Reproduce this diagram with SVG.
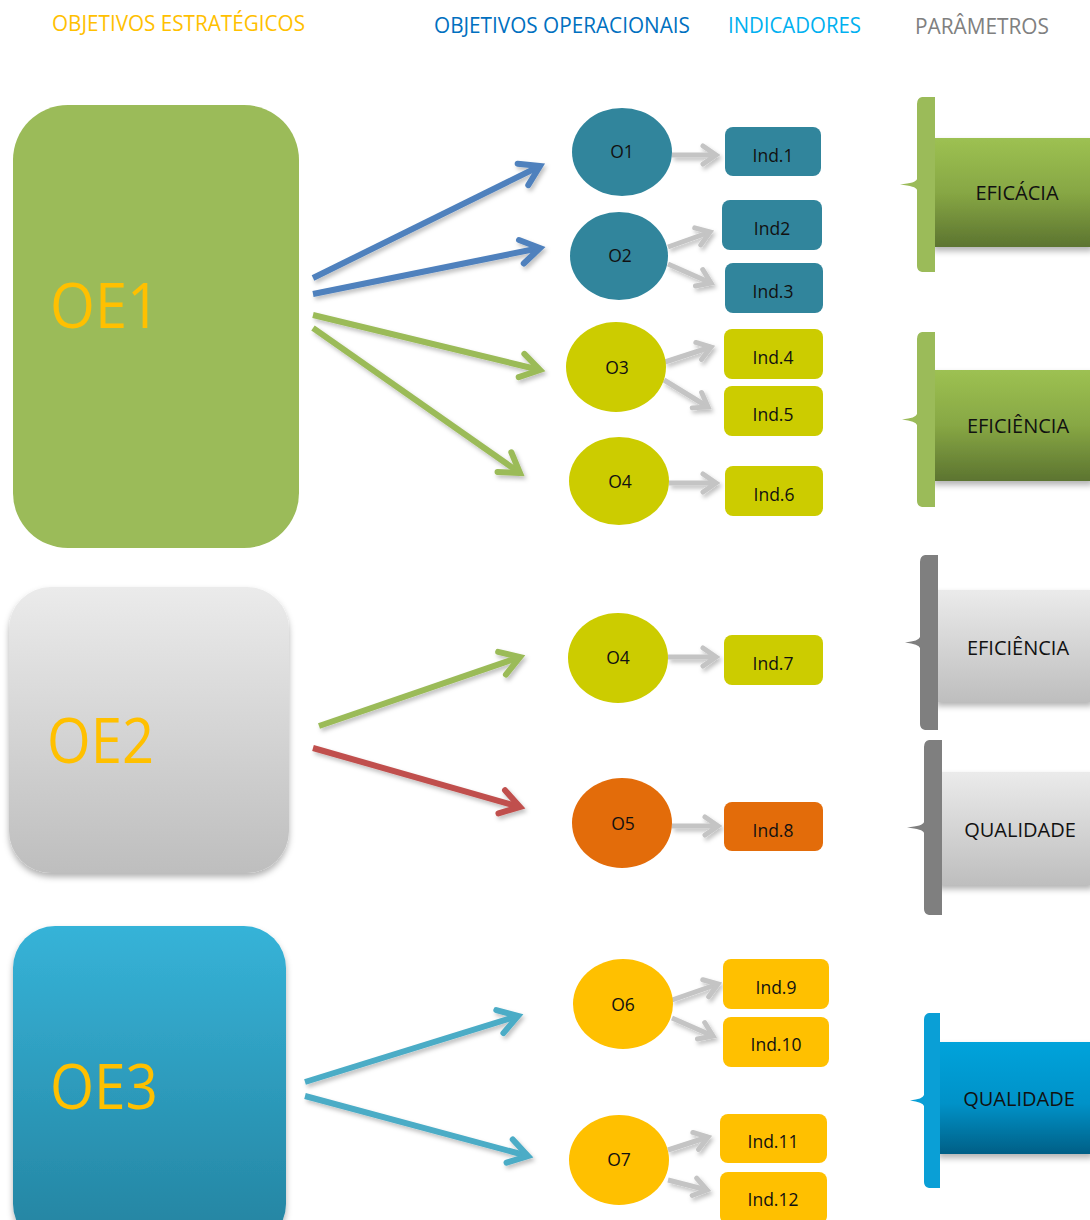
<svg xmlns="http://www.w3.org/2000/svg" width="1090" height="1220" viewBox="0 0 1090 1220">
<style>
text{font-family:"Open Sans","Noto Sans","Liberation Sans",sans-serif;}
.hd{font-size:21px;}
.oe{font-size:62px;fill:#FFC000;}
.lbl{font-size:17.5px;fill:#111111;text-anchor:middle;}
.par{font-size:20px;fill:#111111;text-anchor:middle;}
.big{fill:none;stroke-width:6;}
.sm{fill:none;stroke:#C4C4C4;stroke-width:5;}
.teal{fill:#31859C;}
.lime{fill:#CCCC00;}
.orange{fill:#E36C0A;}
.gold{fill:#FFC000;}
</style>
<defs>
<filter id="sh" filterUnits="userSpaceOnUse" x="0" y="0" width="1090" height="1220">
<feDropShadow dx="2" dy="3" stdDeviation="2" flood-color="#000" flood-opacity="0.25"/>
</filter>
<filter id="sh2" x="-10%" y="-10%" width="130%" height="130%">
<feDropShadow dx="0" dy="4" stdDeviation="3" flood-color="#000" flood-opacity="0.3"/>
</filter>
<linearGradient id="gGray" x1="0" y1="0" x2="0" y2="1">
<stop offset="0" stop-color="#EBEBEB"/><stop offset="1" stop-color="#BEBEBE"/>
</linearGradient>
<linearGradient id="gOE3" x1="0" y1="0" x2="0" y2="1">
<stop offset="0" stop-color="#36B3D8"/><stop offset="1" stop-color="#2483A0"/>
</linearGradient>
<linearGradient id="gGreen" x1="0" y1="0" x2="0" y2="1">
<stop offset="0" stop-color="#9DC152"/><stop offset="0.5" stop-color="#87A744"/><stop offset="1" stop-color="#5C7430"/>
</linearGradient>
<linearGradient id="gBlue" x1="0" y1="0" x2="0" y2="1">
<stop offset="0" stop-color="#00A3DB"/><stop offset="0.55" stop-color="#0092C8"/><stop offset="1" stop-color="#005F86"/>
</linearGradient>
<marker id="mBlue" viewBox="-30 -20 40 40" markerUnits="userSpaceOnUse" markerWidth="40" markerHeight="40" refX="0" refY="0" orient="auto">
<path d="M-19,-12 L0,0 L-19,12" fill="none" stroke="#4F81BD" stroke-width="6" stroke-linecap="round"/>
</marker>
<marker id="mGreen" viewBox="-30 -20 40 40" markerUnits="userSpaceOnUse" markerWidth="40" markerHeight="40" refX="0" refY="0" orient="auto">
<path d="M-19,-12 L0,0 L-19,12" fill="none" stroke="#9BBB59" stroke-width="6" stroke-linecap="round"/>
</marker>
<marker id="mRed" viewBox="-30 -20 40 40" markerUnits="userSpaceOnUse" markerWidth="40" markerHeight="40" refX="0" refY="0" orient="auto">
<path d="M-19,-12 L0,0 L-19,12" fill="none" stroke="#C0504D" stroke-width="6" stroke-linecap="round"/>
</marker>
<marker id="mTeal" viewBox="-30 -20 40 40" markerUnits="userSpaceOnUse" markerWidth="40" markerHeight="40" refX="0" refY="0" orient="auto">
<path d="M-19,-12 L0,0 L-19,12" fill="none" stroke="#4BACC6" stroke-width="6" stroke-linecap="round"/>
</marker>
<marker id="mGray" viewBox="-20 -15 30 30" markerUnits="userSpaceOnUse" markerWidth="30" markerHeight="30" refX="0" refY="0" orient="auto">
<path d="M-13,-9 L0,0 L-13,9" fill="none" stroke="#C4C4C4" stroke-width="5" stroke-linecap="round"/>
</marker>
</defs>

<rect width="1090" height="1220" fill="#ffffff"/>

<g id="headers">
<text class="hd" x="52" y="31" fill="#FFC000" textLength="253" lengthAdjust="spacingAndGlyphs">OBJETIVOS ESTRATÉGICOS</text>
<text class="hd" x="434" y="33" fill="#0070C0" textLength="256" lengthAdjust="spacingAndGlyphs">OBJETIVOS OPERACIONAIS</text>
<text class="hd" x="728" y="33" fill="#00B0F0" textLength="133" lengthAdjust="spacingAndGlyphs">INDICADORES</text>
<text class="hd" x="915" y="34" fill="#808080" textLength="134" lengthAdjust="spacingAndGlyphs">PARÂMETROS</text>
</g>

<g id="OE1">
<rect x="13" y="105" width="286" height="443" rx="55" fill="#9BBB59"/>
<text class="oe" x="50" y="328" textLength="110" lengthAdjust="spacingAndGlyphs">OE1</text>
</g>
<g id="OE2">
<rect x="9" y="587" width="280" height="286" rx="42" fill="url(#gGray)" filter="url(#sh2)"/>
<text class="oe" x="47" y="763" textLength="107" lengthAdjust="spacingAndGlyphs">OE2</text>
</g>
<g id="OE3">
<rect x="13" y="926" width="273" height="320" rx="42" fill="url(#gOE3)" filter="url(#sh2)"/>
<text class="oe" x="50" y="1109" textLength="108" lengthAdjust="spacingAndGlyphs">OE3</text>
</g>

<g id="connectors" filter="url(#sh)">
<line class="big" x1="313" y1="278" x2="540" y2="166" stroke="#4F81BD" marker-end="url(#mBlue)"/>
<line class="big" x1="313" y1="294" x2="540" y2="248" stroke="#4F81BD" marker-end="url(#mBlue)"/>
<line class="big" x1="313" y1="315" x2="540" y2="370" stroke="#9BBB59" marker-end="url(#mGreen)"/>
<line class="big" x1="313" y1="328" x2="520" y2="473" stroke="#9BBB59" marker-end="url(#mGreen)"/>
<line class="big" x1="319" y1="726" x2="520" y2="657" stroke="#9BBB59" marker-end="url(#mGreen)"/>
<line class="big" x1="313" y1="748" x2="520" y2="807" stroke="#C0504D" marker-end="url(#mRed)"/>
<line class="big" x1="305" y1="1082" x2="518" y2="1016" stroke="#4BACC6" marker-end="url(#mTeal)"/>
<line class="big" x1="305" y1="1096" x2="528" y2="1156" stroke="#4BACC6" marker-end="url(#mTeal)"/>

<line class="sm" x1="672" y1="155" x2="716" y2="155" marker-end="url(#mGray)"/>
<line class="sm" x1="668" y1="247" x2="710" y2="232" marker-end="url(#mGray)"/>
<line class="sm" x1="668" y1="264" x2="711" y2="283" marker-end="url(#mGray)"/>
<line class="sm" x1="665" y1="362" x2="711" y2="347" marker-end="url(#mGray)"/>
<line class="sm" x1="664" y1="380" x2="708" y2="407" marker-end="url(#mGray)"/>
<line class="sm" x1="669" y1="483" x2="716" y2="483" marker-end="url(#mGray)"/>
<line class="sm" x1="668" y1="657" x2="716" y2="657" marker-end="url(#mGray)"/>
<line class="sm" x1="672" y1="826" x2="718" y2="826" marker-end="url(#mGray)"/>
<line class="sm" x1="672" y1="1000" x2="718" y2="984" marker-end="url(#mGray)"/>
<line class="sm" x1="672" y1="1018" x2="713" y2="1036" marker-end="url(#mGray)"/>
<line class="sm" x1="668" y1="1150" x2="708" y2="1137" marker-end="url(#mGray)"/>
<line class="sm" x1="668" y1="1180" x2="707" y2="1190" marker-end="url(#mGray)"/>
</g>

<g id="O1"><ellipse class="teal" cx="622" cy="152" rx="50" ry="44"/><text class="lbl" x="622" y="158">O1</text></g>
<g id="O2"><ellipse class="teal" cx="619" cy="256" rx="49" ry="44"/><text class="lbl" x="620" y="262">O2</text></g>
<g id="O3"><ellipse class="lime" cx="616" cy="367" rx="50" ry="45"/><text class="lbl" x="617" y="374">O3</text></g>
<g id="O4a"><ellipse class="lime" cx="619" cy="481" rx="50" ry="44"/><text class="lbl" x="620" y="488">O4</text></g>
<g id="O4b"><ellipse class="lime" cx="618" cy="658" rx="50" ry="45"/><text class="lbl" x="618" y="664">O4</text></g>
<g id="O5"><ellipse class="orange" cx="622" cy="823" rx="50" ry="45"/><text class="lbl" x="623" y="830">O5</text></g>
<g id="O6"><ellipse class="gold" cx="623" cy="1004" rx="50" ry="45"/><text class="lbl" x="623" y="1011">O6</text></g>
<g id="O7"><ellipse class="gold" cx="619" cy="1160" rx="50" ry="45"/><text class="lbl" x="619" y="1166">O7</text></g>

<g id="Ind1"><rect class="teal" x="725" y="127" width="96" height="49" rx="8"/><text class="lbl" x="773" y="162">Ind.1</text></g>
<g id="Ind2"><rect class="teal" x="722" y="200" width="100" height="50" rx="8"/><text class="lbl" x="772" y="235">Ind2</text></g>
<g id="Ind3"><rect class="teal" x="725" y="263" width="98" height="50" rx="8"/><text class="lbl" x="773" y="298">Ind.3</text></g>
<g id="Ind4"><rect class="lime" x="724" y="329" width="99" height="50" rx="8"/><text class="lbl" x="773" y="364">Ind.4</text></g>
<g id="Ind5"><rect class="lime" x="724" y="386" width="99" height="50" rx="8"/><text class="lbl" x="773" y="421">Ind.5</text></g>
<g id="Ind6"><rect class="lime" x="725" y="466" width="98" height="50" rx="8"/><text class="lbl" x="774" y="501">Ind.6</text></g>
<g id="Ind7"><rect class="lime" x="724" y="635" width="99" height="50" rx="8"/><text class="lbl" x="773" y="670">Ind.7</text></g>
<g id="Ind8"><rect class="orange" x="724" y="802" width="99" height="49" rx="8"/><text class="lbl" x="773" y="837">Ind.8</text></g>
<g id="Ind9"><rect class="gold" x="723" y="959" width="106" height="50" rx="8"/><text class="lbl" x="776" y="994">Ind.9</text></g>
<g id="Ind10"><rect class="gold" x="723" y="1017" width="106" height="50" rx="8"/><text class="lbl" x="776" y="1051">Ind.10</text></g>
<g id="Ind11"><rect class="gold" x="720" y="1114" width="107" height="49" rx="8"/><text class="lbl" x="773" y="1148">Ind.11</text></g>
<g id="Ind12"><rect class="gold" x="720" y="1172" width="107" height="52" rx="8"/><text class="lbl" x="773" y="1206">Ind.12</text></g>

<g id="P1">
<rect x="933" y="138" width="160" height="109" fill="url(#gGreen)" filter="url(#sh2)"/>
<path d="M935,97 L922,97 Q917,98 917,104 L917,179 Q916,183 900,184.5 Q916,186 917,190 L917,266 Q917,271 922,272 L935,272 Z" fill="#9BBB59"/>
<text class="par" x="1017" y="200">EFICÁCIA</text>
</g>
<g id="P2">
<rect x="933" y="370" width="160" height="111" fill="url(#gGreen)" filter="url(#sh2)"/>
<path d="M935,332 L922,332 Q917,333 917,339 L917,414 Q916,418 902,419.5 Q916,421 917,425 L917,501 Q917,506 922,507 L935,507 Z" fill="#9BBB59"/>
<text class="par" x="1018" y="433">EFICIÊNCIA</text>
</g>
<g id="P3">
<rect x="936" y="590" width="157" height="112" fill="url(#gGray)" filter="url(#sh2)"/>
<path d="M938,555 L925,555 Q920,556 920,562 L920,637 Q919,641 905,642.5 Q919,644 920,648 L920,724 Q920,729 925,730 L938,730 Z" fill="#7F7F7F"/>
<text class="par" x="1018" y="655">EFICIÊNCIA</text>
</g>
<g id="P4">
<rect x="938" y="772" width="155" height="113" fill="url(#gGray)" filter="url(#sh2)"/>
<path d="M942,740 L929,740 Q924,741 924,747 L924,822 Q923,826 907,827.5 Q923,829 924,833 L924,909 Q924,914 929,915 L942,915 Z" fill="#7F7F7F"/>
<text class="par" x="1020" y="837">QUALIDADE</text>
</g>
<g id="P5">
<rect x="938" y="1042" width="155" height="112" fill="url(#gBlue)" filter="url(#sh2)"/>
<path d="M940,1013 L929,1013 Q924,1014 924,1020 L924,1095 Q923,1099 910,1100.5 Q923,1102 924,1106 L924,1182 Q924,1187 929,1188 L940,1188 Z" fill="#0A9FD6"/>
<text class="par" x="1019" y="1106">QUALIDADE</text>
</g>
</svg>
